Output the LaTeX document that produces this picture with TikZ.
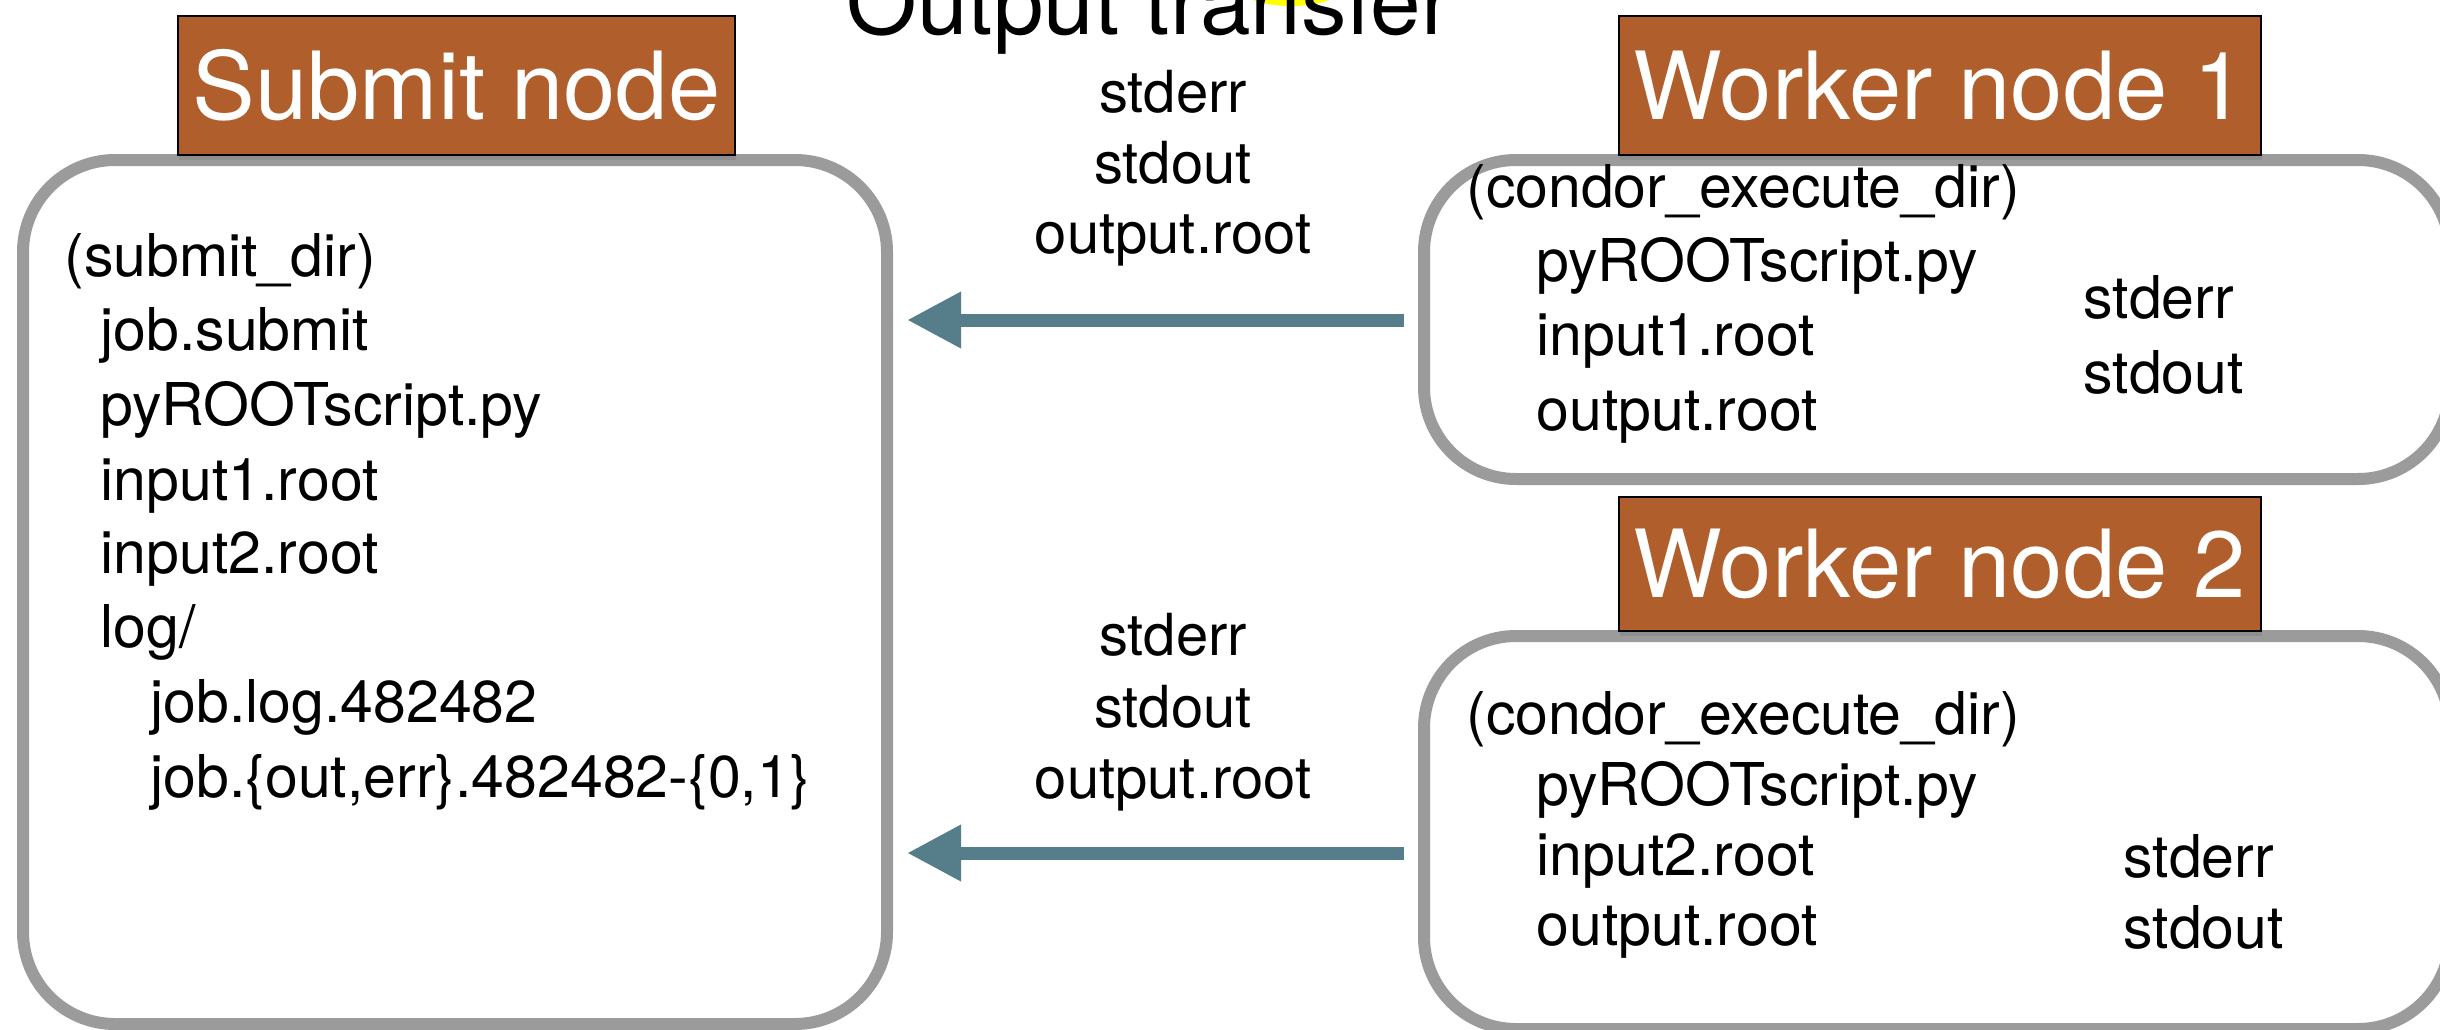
\documentclass[tikz,border=0pt]{standalone}
\usepackage{fontspec}
\setmainfont{TeX Gyre Heros}
\usetikzlibrary{arrows.meta,shadows}
\definecolor{boxgray}{HTML}{9B9B9B}
\definecolor{labelbrown}{HTML}{B05E2B}
\definecolor{arrowteal}{HTML}{567D8A}
\definecolor{hlyellow}{HTML}{FFFF00}
\begin{document}
\begin{tikzpicture}[x=0.5pt,y=-0.5pt,
  dirbox/.style={draw=boxgray, line width=6pt, rounded corners=46pt, fill=white, inner sep=0pt},
  nodelabel/.style={draw=black, line width=1.2pt, fill=labelbrown, text=white,
    font=\fontsize{47}{56}\selectfont, inner sep=0pt,
    drop shadow={shadow xshift=0.5pt, shadow yshift=-2.5pt, opacity=0.45}},
  file/.style={anchor=base west, inner sep=0pt, font=\fontsize{29.5}{36}\selectfont},
  mid/.style={anchor=base, inner sep=0pt, font=\fontsize{29}{36}\selectfont},
  flow/.style={draw=arrowteal, line width=6.5pt, -{Triangle[length=27pt,width=26.5pt]},
    shorten <=7pt, shorten >=7pt}
]
\useasboundingbox (0,0) rectangle (2440,1029);
\clip (0,0) rectangle (2440,1029);
\fill[white] (0,0) rectangle (2440,1029);

% title with highlight
\fill[hlyellow] (1291,-20) ellipse [x radius=30pt, y radius=13pt];
\node[anchor=base, inner sep=0pt, font=\fontsize{45.5}{54}\selectfont] (title) at (1149,34) {Output transfer};

% directory boxes
\node[dirbox, minimum width=432pt, minimum height=432pt] (submitbox) at (455,592) {};
\node[dirbox, minimum width=513pt, minimum height=159.5pt] (w1box) at (1937,319.5) {};
\node[dirbox, minimum width=513pt, minimum height=196.5pt] (w2box) at (1937,832.5) {};

% labels
\node[nodelabel, minimum width=278.5pt, minimum height=69.5pt] (submitlabel) at (456.5,85.5) {Submit node};
\node[nodelabel, minimum width=321pt, minimum height=69.5pt] (w1label) at (1940,85.5) {Worker node 1};
\node[nodelabel, minimum width=321pt, minimum height=67pt] (w2label) at (1940,564) {Worker node 2};

% submit node files
\node[file] (s0) at (64,276) {(submit\_dir)};
\node[file] (s1) at (100,350) {job.submit};
\node[file] (s2) at (100,425) {pyROOTscript.py};
\node[file] (s3) at (100,500) {input1.root};
\node[file] (s4) at (100,573) {input2.root};
\node[file] (s5) at (100,647) {log/};
\node[file] (s6) at (150,722) {job.log.482482};
\node[file] (s7) at (150,797) {job.\{out,err\}.482482-\{0,1\}};

% worker 1 files
\node[file] (a0) at (1466,207) {(condor\_execute\_dir)};
\node[file] (a1) at (1536,281) {pyROOTscript.py};
\node[file] (a2) at (1536,355) {input1.root};
\node[file] (a3) at (1536,430) {output.root};
\node[file] (a4) at (2083,318) {stderr};
\node[file] (a5) at (2083,393) {stdout};

% worker 2 files
\node[file] (b0) at (1466,734) {(condor\_execute\_dir)};
\node[file] (b1) at (1536,805) {pyROOTscript.py};
\node[file] (b2) at (1536,875) {input2.root};
\node[file] (b3) at (1536,945) {output.root};
\node[file] (b4) at (2123,877) {stderr};
\node[file] (b5) at (2123,948) {stdout};

% transferred files
\node[mid] (m1a) at (1173,112) {stderr};
\node[mid] (m1b) at (1173,183) {stdout};
\node[mid] (m1c) at (1173,253) {output.root};
\node[mid] (m2a) at (1173,655) {stderr};
\node[mid] (m2b) at (1173,727) {stdout};
\node[mid] (m2c) at (1173,798) {output.root};

% arrows
\coordinate (arr1) at (1150,320);
\coordinate (arr2) at (1150,853);
\draw[flow] (w1box.west |- arr1) -- (submitbox.east |- arr1);
\draw[flow] (w2box.west |- arr2) -- (submitbox.east |- arr2);
\end{tikzpicture}
\end{document}
